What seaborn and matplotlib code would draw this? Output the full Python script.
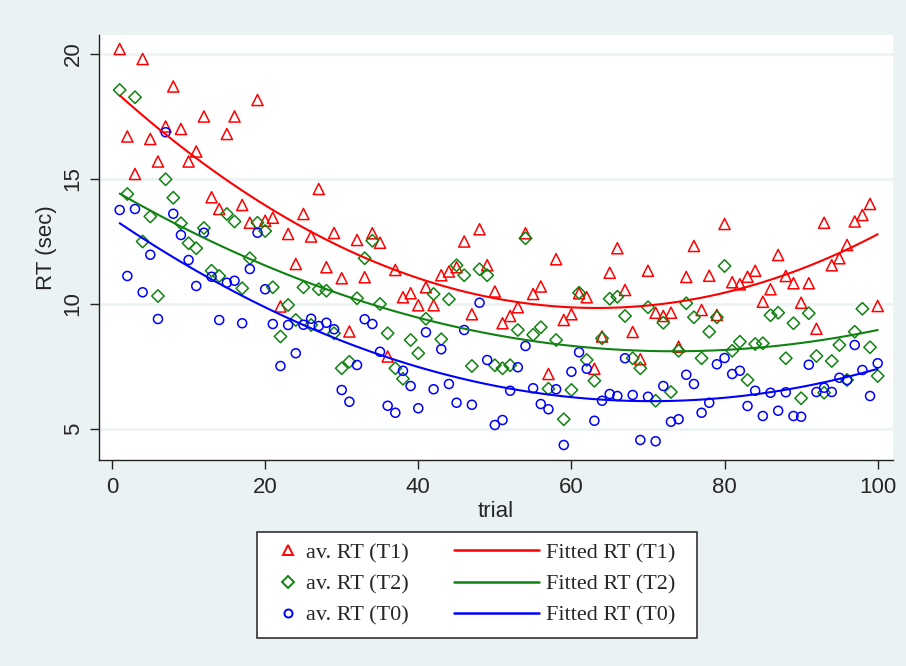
import numpy as np
import pandas as pd
import matplotlib
matplotlib.use('Agg')
import matplotlib.pyplot as plt
import seaborn as sns
from matplotlib.lines import Line2D
from matplotlib.patches import Rectangle

# Datos: tiempo de reacción medio por ensayo
trial = list(range(1, 101))

rt_t1 = [20.2, 16.7, 15.2, 19.8, 16.6, 15.7, 17.1, 18.7, 17.0, 15.7,
         16.1, 17.5, 14.27, 13.8, 16.8, 17.5, 13.96, 13.25, 18.16, 13.33,
         13.45, 9.9, 12.8, 11.6, 13.6, 12.7, 14.6, 11.47, 12.84, 11.03,
         8.9, 12.56, 11.07, 12.83, 12.45, 7.9, 11.36, 10.27, 10.43, 9.95,
         10.67, 9.95, 11.15, 11.3, 11.47, 12.5, 9.59, 12.99, 11.55, 10.5,
         9.23, 9.52, 9.87, 12.83, 10.4, 10.7, 7.2, 11.79, 9.36, 9.59,
         10.43, 10.27, 7.41, 8.7, 11.25, 12.23, 10.56, 8.88, 7.79, 11.33,
         9.65, 9.52, 9.65, 8.29, 11.08, 12.32, 9.76, 11.13, 9.56, 13.2,
         10.87, 10.79, 11.09, 11.33, 10.09, 10.59, 11.96, 11.12, 10.83, 10.05,
         10.83, 9.01, 13.25, 11.55, 11.83, 12.36, 13.3, 13.56, 14.0, 9.92]

rt_t2 = [18.56, 14.4, 18.27, 12.5, 13.5, 10.32, 14.99, 14.25, 13.23, 12.43,
         12.23, 13.04, 11.33, 11.12, 13.6, 13.3, 10.63, 11.83, 13.25, 12.92,
         10.67, 8.7, 9.96, 9.36, 10.67, 9.16, 10.59, 10.53, 8.83, 7.43,
         7.69, 10.23, 11.83, 12.53, 10.0, 8.83, 7.43, 7.01, 8.56, 8.03,
         9.41, 10.4, 8.59, 10.19, 11.55, 11.15, 7.52, 11.39, 11.15, 7.55,
         7.43, 7.55, 8.96, 12.63, 8.77, 9.07, 6.61, 8.56, 5.39, 6.56,
         10.45, 7.76, 6.93, 8.63, 10.21, 10.29, 9.52, 7.83, 7.43, 9.87,
         6.13, 9.25, 6.48, 8.13, 10.03, 9.47, 7.83, 8.89, 9.47, 11.52,
         8.13, 8.49, 6.96, 8.4, 8.43, 9.55, 9.65, 7.83, 9.23, 6.23,
         9.63, 7.92, 6.45, 7.72, 8.36, 6.96, 8.89, 9.81, 8.27, 7.12]

rt_t0 = [13.76, 11.12, 13.8, 10.47, 11.97, 9.4, 16.87, 13.61, 12.76, 11.76,
         10.72, 12.85, 11.09, 9.36, 10.85, 10.93, 9.23, 11.4, 12.85, 10.59,
         9.2, 7.52, 9.16, 8.03, 9.17, 9.41, 9.12, 9.25, 8.99, 6.56,
         6.09, 7.56, 9.39, 9.2, 8.09, 5.93, 5.65, 7.33, 6.72, 5.83,
         8.87, 6.59, 8.19, 6.8, 6.05, 8.96, 5.97, 10.05, 7.76, 5.16,
         5.36, 6.53, 7.47, 8.32, 6.63, 6.0, 5.79, 6.59, 4.36, 7.29,
         8.07, 7.41, 5.33, 6.13, 6.4, 6.32, 7.83, 6.36, 4.56, 6.29,
         4.51, 6.72, 5.29, 5.39, 7.17, 6.8, 5.65, 6.05, 7.59, 7.84,
         7.2, 7.33, 5.92, 6.53, 5.52, 6.45, 5.73, 6.47, 5.52, 5.49,
         7.57, 6.48, 6.65, 6.48, 7.05, 6.96, 8.36, 7.36, 6.32, 7.63]

df = pd.DataFrame({'trial': trial, 'T1': rt_t1, 'T2': rt_t2, 'T0': rt_t0})

series = ['T1', 'T2', 'T0']
colores = {'T1': '#FF0000', 'T2': '#0F820F', 'T0': '#0000FF'}
marcadores = {'T1': '^', 'T2': 'D', 'T0': 'o'}
tamanos = {'T1': 64, 'T2': 40, 'T0': 42}
tam_ley = {'T1': 7.0, 'T2': 6.6, 'T0': 5.8}

sns.set_style('white')
plt.rcParams['font.family'] = ['Liberation Sans', 'DejaVu Sans']

fondo = '#EAF2F3'
fig = plt.figure(figsize=(9.06, 6.66), dpi=100, facecolor=fondo)
ax = fig.add_axes([99 / 906, 206 / 666, 794 / 906, 425 / 666])
ax.set_facecolor('white')

for s in series:
    sns.scatterplot(data=df, x='trial', y=s, marker=marcadores[s], s=tamanos[s],
                    facecolor='none', edgecolor=colores[s], linewidth=1.1, ax=ax, zorder=3)
for s in series:
    sns.regplot(data=df, x='trial', y=s, order=2, ci=None, scatter=False,
                color=colores[s], line_kws={'lw': 1.5, 'zorder': 4}, ax=ax)

ax.set_xlim(-1.7, 102)
ax.set_ylim(3.76, 20.76)
ax.set_xticks([0, 20, 40, 60, 80, 100])
ax.set_yticks([5, 10, 15, 20])
ax.yaxis.grid(True, color=fondo, lw=1.8)
ax.set_axisbelow(True)
for lado in ['top', 'right']:
    ax.spines[lado].set_visible(False)
for lado in ['left', 'bottom']:
    ax.spines[lado].set_color('#222222')
    ax.spines[lado].set_linewidth(1.0)
ax.tick_params(axis='both', direction='out', length=6.5, width=1, color='#222222',
               labelsize=16, bottom=True, left=True)
ax.tick_params(axis='x', pad=6)
ax.tick_params(axis='y', pad=4.5)
plt.setp(ax.get_yticklabels(), rotation=90, va='center')
ax.set_xlabel('trial', fontsize=16, labelpad=2)
ax.set_ylabel('RT (sec)', fontsize=16, labelpad=4)

# Leyenda en dos columnas dentro de un recuadro
fig.patches.append(Rectangle((257 / 906, 28 / 666), 440 / 906, 106 / 666,
                             transform=fig.transFigure, facecolor='white',
                             edgecolor='#222222', lw=1.1, zorder=0))
h_marc = [Line2D([], [], ls='none', marker=marcadores[s], ms=tam_ley[s],
                 mfc='none', mec=colores[s], mew=1.4) for s in series]
h_lin = [Line2D([], [], color=colores[s], lw=1.8) for s in series]
fuente_ley = {'family': ['Liberation Serif', 'DejaVu Serif'], 'size': 16}
fig.legend(h_marc, ['av. RT (T1)', 'av. RT (T2)', 'av. RT (T0)'],
           loc='center left', bbox_to_anchor=(277 / 906, 1 - 584 / 666),
           frameon=False, borderpad=0, borderaxespad=0, handlelength=1.0,
           handletextpad=0.3, labelspacing=0.48, prop=fuente_ley)
fig.legend(h_lin, ['Fitted RT (T1)', 'Fitted RT (T2)', 'Fitted RT (T0)'],
           loc='center left', bbox_to_anchor=(454 / 906, 1 - 584 / 666),
           frameon=False, borderpad=0, borderaxespad=0, handlelength=3.83,
           handletextpad=0.3, labelspacing=0.48, prop=fuente_ley)

fig.savefig('out.png', dpi=100, facecolor=fondo)
